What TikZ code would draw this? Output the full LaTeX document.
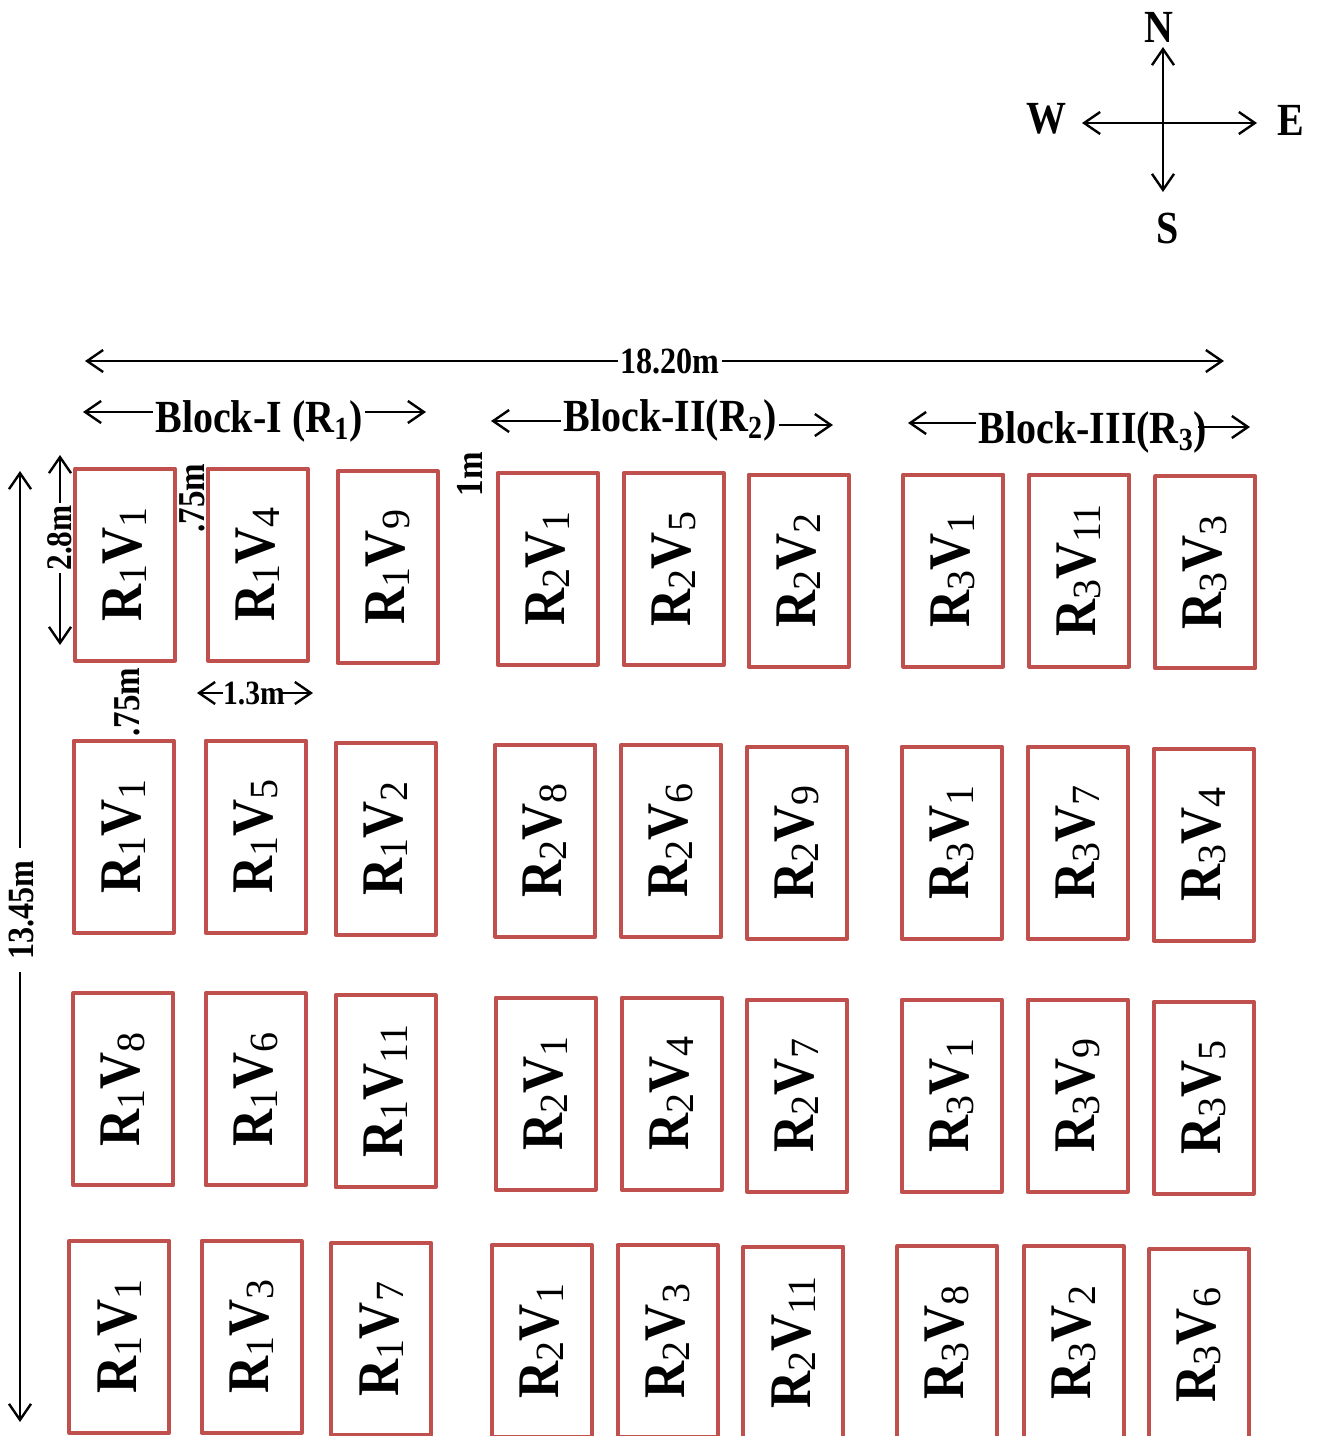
\documentclass[tikz,border=0pt]{standalone}
\usepackage{fontspec}
\usepackage{graphicx}
\setmainfont[FakeStretch=0.87]{Liberation Serif}
\newfontfamily\idxfont{Liberation Serif}
\usetikzlibrary{arrows.meta}
\definecolor{plotred}{HTML}{C0504D}

% lowered plain-weight index digits
\newcommand\idx[1]{\raisebox{-2.5pt}{\fontsize{20}{20}\idxfont\mdseries #1}}
% plot label: R_r V_v set upright along the plot
\newcommand\pv[2]{\rotatebox{90}{R\idx{#1}V\idx{#2}}}

\tikzset{
  plot/.style={draw=plotred, line width=2pt, line join=round,
    minimum width=50pt, minimum height=96pt, inner sep=0pt,
    font=\fontsize{29.5}{30}\selectfont\bfseries},
  dim/.style={line width=1.2pt, -{Straight Barb[length=8pt,width=11pt]}},
  dimboth/.style={line width=1.2pt, {Straight Barb[length=8pt,width=11pt]}-{Straight Barb[length=8pt,width=11pt]}},
  lbl/.style={font=\fontsize{18.5}{20}\selectfont\bfseries, inner sep=1pt},
  small/.style={font=\fontsize{18}{20}\selectfont\bfseries, inner sep=1pt},
  blk/.style={font=\fontsize{23}{25}\selectfont\bfseries, inner sep=1pt, anchor=base},
  comp/.style={font=\fontsize{23}{25}\selectfont\bfseries, inner sep=0pt},
}

\begin{document}
\begin{tikzpicture}[x=0.5pt, y=-0.5pt]
\useasboundingbox (0,0) rectangle (1320,1436);

% ---- compass ----
\node[comp] (N) at (1159,27) {N};
\node[comp] (W) at (1047,119) {W};
\node[comp] (E) at (1291,120) {E};
\node[comp] (S) at (1168,228) {S};
\coordinate (cn) at (1163,47);
\coordinate (cs) at (1163,192);
\coordinate (cw) at (1082,123);
\coordinate (ce) at (1257,123);
\draw[dimboth] (cn) -- (cs);
\draw[dimboth] (cw) -- (ce);

% ---- overall width ----
\node[lbl, fill=white] (d18) at (670,361) {18.20m};
\coordinate (d18l) at (85,361);
\coordinate (d18r) at (1224,361);
\draw[dim] (d18.west) -- (d18l);
\draw[dim] (d18.east) -- (d18r);

% ---- block headings ----
\node[blk] (b1) at (259,432) {Block-I (R\textsubscript{1})};
\coordinate (b1l) at (83,412);
\coordinate (b1r) at (426,412);
\draw[dim] (b1.west |- b1l) -- (b1l);
\draw[dim] (b1.east |- b1r) -- (b1r);

\node[blk] (b2) at (670,431) {Block-II(R\textsubscript{2})};
\coordinate (b2l) at (491,421);
\coordinate (b2r) at (833,425);
\draw[dim] (b2.west |- b2l) -- (b2l);
\draw[dim] (b2.east |- b2r) -- (b2r);

\node[blk] (b3) at (1093,443) {Block-III(R\textsubscript{3})};
\coordinate (b3l) at (908,423);
\coordinate (b3r) at (1250,427);
\draw[dim] (b3.west |- b3l) -- (b3l);
\draw[dim] ([xshift=-6pt]b3.east |- b3r) -- (b3r);

% ---- overall length ----
\node[lbl, rotate=90, fill=white, inner xsep=6pt] (d13) at (22,910) {13.45m};
\coordinate (d13t) at (20,471);
\coordinate (d13b) at (20,1422);
\draw[dim] (d13.east -| d13t) -- (d13t);
\draw[dim] (d13.west -| d13b) -- (d13b);

% ---- plot length ----
\node[small, rotate=90] (d28) at (60,538) {2.8m};
\coordinate (d28t) at (60,455);
\coordinate (d28b) at (60,645);
\draw[dim] (d28.east -| d28t) -- (d28t);
\draw[dim] (d28.west -| d28b) -- (d28b);

% ---- spacings ----
\node[small, font=\fontsize{19}{20}\selectfont\bfseries, rotate=90] (s75a) at (192,498) {.75m};
\node[small, font=\fontsize{19}{20}\selectfont\bfseries, rotate=90] (s75b) at (127,702) {.75m};
\node[small, font=\fontsize{19}{20}\selectfont\bfseries, rotate=90] (s1) at (470,474) {1m};

% ---- plot width ----
\node[small, font=\fontsize{17}{18}\selectfont\bfseries, inner sep=0pt] (d13w) at (254,693) {1.3m};
\coordinate (d13wl) at (197,693);
\coordinate (d13wr) at (313,693);
\draw[dim] (d13w.west) -- (d13wl);
\draw[dim] ([xshift=-3pt]d13w.east) -- (d13wr);

% ---- plots ----
\foreach \n/\x/\y/\r/\v in {
  1/125/564.5/1/1, 2/257.8/564.5/1/4, 3/387.5/567/1/9,
  4/547.7/568.8/2/1, 5/673.5/569/2/5, 6/798.5/570.5/2/2,
  7/953.3/570.5/3/1, 8/1079.2/570.5/3/11, 9/1205.3/572.3/3/3,
  10/123.5/836.5/1/1, 11/255.5/836.5/1/5, 12/385.5/838.5/1/2,
  13/545.3/840.7/2/8, 14/671.3/840.7/2/6, 15/797.2/842.5/2/9,
  16/951.5/842.5/3/1, 17/1077.5/842.5/3/7, 18/1203.5/844.5/3/4,
  19/123.2/1089.3/1/8, 20/255.7/1089.3/1/6, 21/385.5/1091.3/1/11,
  22/545.5/1093.5/2/1, 23/671.5/1093.5/2/4, 24/797/1095.5/2/7,
  25/951.5/1095.5/3/1, 26/1077.5/1095.5/3/9, 27/1203.5/1097.5/3/5,
  28/119.3/1336.7/1/1, 29/251.5/1336.7/1/3, 30/381.3/1339/1/7,
  31/541.5/1341/2/1, 32/667.5/1341/2/3, 33/793.3/1342.6/2/11,
  34/947.2/1342.3/3/8, 35/1073.8/1342.3/3/2, 36/1199.2/1345/3/6}
{
  \node[plot] (p\n) at (\x,\y) {\pv{\r}{\v}};
}
\end{tikzpicture}
\end{document}
